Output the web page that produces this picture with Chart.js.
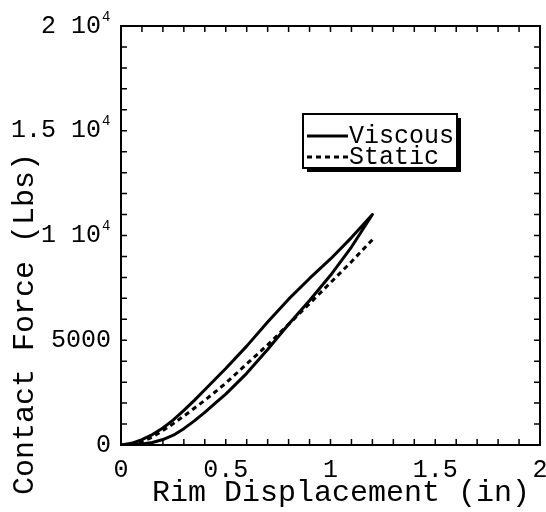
<!DOCTYPE html>
<html>
<head>
<meta charset="utf-8">
<script src="https://cdn.jsdelivr.net/npm/chart.js@4.4.1/dist/chart.umd.min.js"></script>
<style>
  html, body { margin: 0; padding: 0; background: #fff; }
  canvas { display: block; }
</style>
</head>
<body>
<canvas id="c" width="546" height="512"></canvas>
<script>
// ---- Data ----
const viscousLoadX   = [0, 0.05, 0.1, 0.15, 0.2, 0.25, 0.3, 0.35, 0.4, 0.45, 0.5, 0.6, 0.7, 0.8, 0.9, 1.0, 1.1, 1.2];
const viscousLoadY   = [0, 10, 45, 120, 260, 470, 780, 1150, 1560, 2000, 2430, 3420, 4560, 5760, 6900, 8100, 9450, 11000];
const viscousUnloadX = [1.2, 1.1, 1.0, 0.9, 0.8, 0.7, 0.6, 0.5, 0.4, 0.35, 0.3, 0.25, 0.2, 0.15, 0.1, 0.05, 0];
const viscousUnloadY = [11000, 9900, 8880, 7950, 6960, 5870, 4720, 3650, 2640, 2130, 1650, 1200, 810, 500, 260, 80, 0];
const staticX        = [0, 0.05, 0.1, 0.15, 0.2, 0.25, 0.3, 0.4, 0.5, 0.6, 0.7, 0.8, 0.9, 1.0, 1.1, 1.2];
const staticY        = [0, 40, 150, 380, 690, 1020, 1380, 2130, 2950, 3870, 4780, 5760, 6750, 7750, 8750, 9800];

const seriesNames = ['Viscous', 'Static'];
const xTickValues = [0, 0.5, 1, 1.5, 2];
const xTickLabels = ['0', '0.5', '1', '1.5', '2'];
const yTickValues = [0, 5000, 10000, 15000, 20000];
const yTickBase   = ['0', '5000', '1 10', '1.5 10', '2 10'];
const yTickExp    = ['', '', '4', '4', '4'];
const xTitle = 'Rim Displacement (in)';
const yTitle = 'Contact Force (Lbs)';

// ---- Build points ----
const viscousPts = viscousLoadX.map((x, i) => ({x, y: viscousLoadY[i]}))
  .concat(viscousUnloadX.map((x, i) => ({x, y: viscousUnloadY[i]})));
const staticPts = staticX.map((x, i) => ({x, y: staticY[i]}));

const FONT = "'Liberation Mono', 'DejaVu Sans Mono', monospace";

const framePlugin = {
  id: 'frame',
  afterDraw(chart) {
    const {ctx, chartArea: a, scales} = chart;
    const xs = scales.x, ys = scales.y;
    ctx.save();
    ctx.strokeStyle = '#000';
    ctx.fillStyle = '#000';
    // frame
    ctx.lineWidth = 2;
    ctx.strokeRect(a.left, a.top, a.right - a.left, a.bottom - a.top);
    // inward ticks
    const tl = 6;
    ctx.lineWidth = 1.5;
    ctx.beginPath();
    for (let i = 0; i <= 20; i++) {
      const px = xs.getPixelForValue(i * 0.1);
      ctx.moveTo(px, a.bottom); ctx.lineTo(px, a.bottom - tl);
      ctx.moveTo(px, a.top); ctx.lineTo(px, a.top + tl);
    }
    for (let i = 0; i <= 20; i++) {
      const py = ys.getPixelForValue(i * 1000);
      ctx.moveTo(a.left, py); ctx.lineTo(a.left + tl, py);
      ctx.moveTo(a.right, py); ctx.lineTo(a.right - tl, py);
    }
    ctx.stroke();

    // y tick labels with superscript exponent
    ctx.textBaseline = 'middle';
    yTickValues.forEach((v, i) => {
      const py = ys.getPixelForValue(v);
      if (yTickExp[i]) {
        ctx.font = '25px ' + FONT;
        ctx.textAlign = 'right';
        ctx.fillText(yTickBase[i], 101, py);
        ctx.font = '14px ' + FONT;
        ctx.textAlign = 'left';
        ctx.fillText(yTickExp[i], 102, py - 9);
      } else {
        ctx.font = '25px ' + FONT;
        ctx.textAlign = 'right';
        ctx.fillText(yTickBase[i], 111, py);
      }
    });

    // axis titles
    ctx.font = '30px ' + FONT;
    ctx.textBaseline = 'middle';
    ctx.textAlign = 'center';
    ctx.fillText(xTitle, 341, 493);
    ctx.save();
    ctx.translate(25, 324);
    ctx.rotate(-Math.PI / 2);
    ctx.fillText(yTitle, 0, 0);
    ctx.restore();

    // legend
    const bx = 303, by = 114, bw = 154, bh = 54;
    ctx.fillRect(bx + 4, by + 4, bw, bh);
    ctx.fillStyle = '#fff';
    ctx.fillRect(bx, by, bw, bh);
    ctx.lineWidth = 2;
    ctx.strokeRect(bx, by, bw, bh);
    ctx.fillStyle = '#000';
    const rows = [136, 157];
    chart.data.datasets.forEach((ds, i) => {
      ctx.beginPath();
      ctx.lineWidth = ds.borderWidth;
      ctx.setLineDash(ds.borderDash || []);
      ctx.moveTo(307, rows[i]);
      ctx.lineTo(348, rows[i]);
      ctx.stroke();
      ctx.setLineDash([]);
      ctx.font = '25px ' + FONT;
      ctx.textAlign = 'left';
      ctx.fillText(ds.label, 349, rows[i]);
    });
    ctx.restore();
  }
};

new Chart(document.getElementById('c'), {
  type: 'scatter',
  data: {
    datasets: [
      {
        label: seriesNames[0],
        data: viscousPts,
        showLine: true,
        borderColor: '#000',
        borderWidth: 3,
        pointRadius: 0,
        tension: 0,
        borderJoinStyle: 'round',
        fill: false
      },
      {
        label: seriesNames[1],
        data: staticPts,
        showLine: true,
        borderColor: '#000',
        borderWidth: 3,
        borderDash: [5, 4],
        pointRadius: 0,
        tension: 0,
        fill: false
      }
    ]
  },
  options: {
    responsive: false,
    animation: false,
    devicePixelRatio: 1,
    layout: { padding: { top: 26, right: 6, left: 0, bottom: 0 } },
    plugins: { legend: { display: false }, tooltip: { enabled: false } },
    scales: {
      x: {
        type: 'linear', min: 0, max: 2,
        grid: { display: false },
        border: { display: false },
        afterBuildTicks(s) { s.ticks = xTickValues.map(v => ({value: v})); },
        afterFit(s) { s.height = 67; s.paddingLeft = 0; s.paddingRight = 0; },
        ticks: {
          color: '#000', padding: 2, maxRotation: 0, autoSkip: false,
          font: { family: FONT, size: 25 },
          callback: (v) => { const i = xTickValues.indexOf(v); return i >= 0 ? xTickLabels[i] : ''; }
        }
      },
      y: {
        type: 'linear', min: 0, max: 20000,
        grid: { display: false },
        border: { display: false },
        afterBuildTicks(s) { s.ticks = yTickValues.map(v => ({value: v})); },
        afterFit(s) { s.width = 121; s.paddingTop = 0; s.paddingBottom = 0; },
        ticks: { display: false }
      }
    }
  },
  plugins: [framePlugin]
});
</script>
</body>
</html>
